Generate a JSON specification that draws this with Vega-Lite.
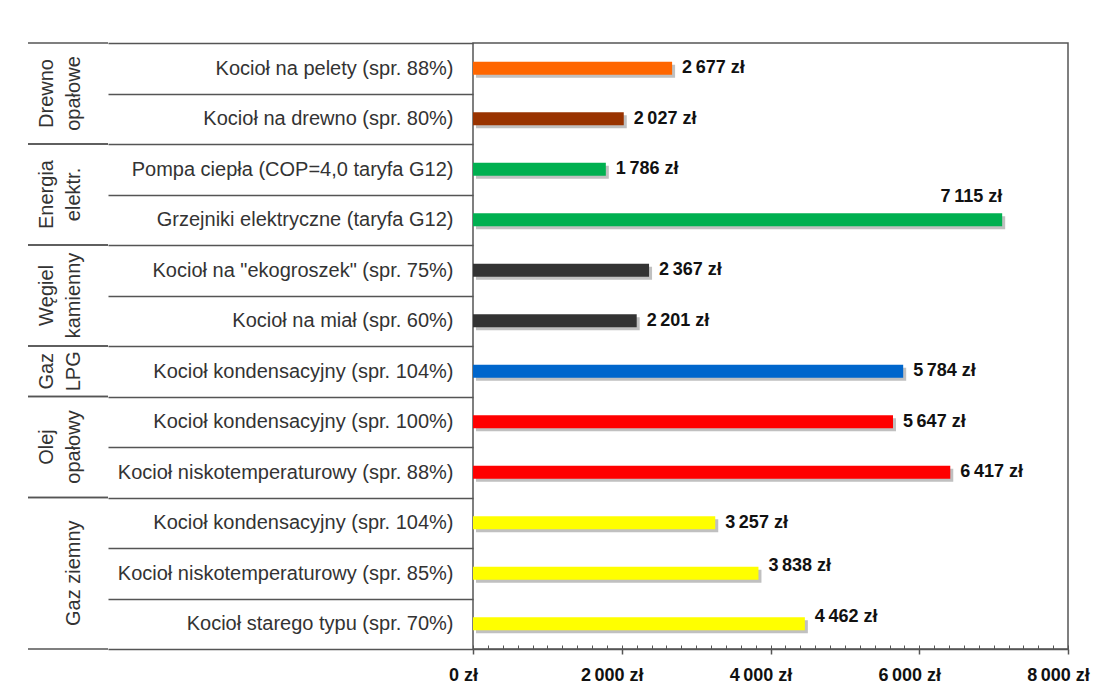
{
  "$schema": "https://vega.github.io/schema/vega-lite/v6.json",
  "padding": {"left": 27, "top": 32, "right": 0, "bottom": 0},
  "background": "white",
  "config": {
    "locale": {"number": {"decimal": ",", "thousands": "\u2009", "grouping": [3], "currency": ["", " zł"]}},
    "font": "Liberation Sans",
    "view": {"stroke": "#555555", "strokeWidth": 1.5},
    "concat": {"spacing": -3}
  },
  "datasets": {
    "koszty": [
      {"grupa": "Drewno opałowe", "nazwa": "Kocioł na pelety (spr. 88%)", "koszt": 2677, "paliwo": "pelety"},
      {"grupa": "Drewno opałowe", "nazwa": "Kocioł na drewno (spr. 80%)", "koszt": 2027, "paliwo": "drewno"},
      {"grupa": "Energia elektr.", "nazwa": "Pompa ciepła (COP=4,0 taryfa G12)", "koszt": 1786, "paliwo": "prąd"},
      {"grupa": "Energia elektr.", "nazwa": "Grzejniki elektryczne (taryfa G12)", "koszt": 7115, "paliwo": "prąd"},
      {"grupa": "Węgiel kamienny", "nazwa": "Kocioł na \"ekogroszek\" (spr. 75%)", "koszt": 2367, "paliwo": "węgiel"},
      {"grupa": "Węgiel kamienny", "nazwa": "Kocioł na miał (spr. 60%)", "koszt": 2201, "paliwo": "węgiel"},
      {"grupa": "Gaz LPG", "nazwa": "Kocioł kondensacyjny (spr. 104%)", "koszt": 5784, "paliwo": "LPG"},
      {"grupa": "Olej opałowy", "nazwa": "Kocioł kondensacyjny (spr. 100%)", "koszt": 5647, "paliwo": "olej"},
      {"grupa": "Olej opałowy", "nazwa": "Kocioł niskotemperaturowy (spr. 88%)", "koszt": 6417, "paliwo": "olej"},
      {"grupa": "Gaz ziemny", "nazwa": "Kocioł kondensacyjny (spr. 104%)", "koszt": 3257, "paliwo": "gaz ziemny"},
      {"grupa": "Gaz ziemny", "nazwa": "Kocioł niskotemperaturowy (spr. 85%)", "koszt": 3838, "paliwo": "gaz ziemny"},
      {"grupa": "Gaz ziemny", "nazwa": "Kocioł starego typu (spr. 70%)", "koszt": 4462, "paliwo": "gaz ziemny"}
    ],
    "grupy": [
      {"linia1": "Drewno", "linia2": "opałowe", "od": 0, "do": 2},
      {"linia1": "Energia", "linia2": "elektr.", "od": 2, "do": 4},
      {"linia1": "Węgiel", "linia2": "kamienny", "od": 4, "do": 6},
      {"linia1": "Gaz", "linia2": "LPG", "od": 6, "do": 7},
      {"linia1": "Olej", "linia2": "opałowy", "od": 7, "do": 9},
      {"linia1": "", "linia2": "Gaz ziemny", "od": 9, "do": 12}
    ]
  },
  "hconcat": [
    {
      "width": 80,
      "height": 606,
      "view": {"stroke": null},
      "data": {"name": "grupy"},
      "transform": [
        {"calculate": "(datum.od + datum.do) / 2", "as": "srodek"}
      ],
      "layer": [
        {
          "mark": {"type": "rule", "color": "#555555", "strokeWidth": 1.5},
          "encoding": {"y": {"field": "od", "type": "quantitative", "scale": {"domain": [0, 12], "reverse": true, "nice": false, "zero": false}, "axis": null}}
        },
        {
          "mark": {"type": "rule", "color": "#555555", "strokeWidth": 1.5},
          "encoding": {"y": {"field": "do", "type": "quantitative", "axis": null}}
        },
        {
          "mark": {"type": "text", "angle": 270, "fontSize": 20, "color": "#333333", "align": "center", "baseline": "middle", "xOffset": -21},
          "encoding": {
            "y": {"field": "srodek", "type": "quantitative", "axis": null},
            "text": {"field": "linia1", "type": "nominal"}
          }
        },
        {
          "mark": {"type": "text", "angle": 270, "fontSize": 20, "color": "#333333", "align": "center", "baseline": "middle", "xOffset": 6},
          "encoding": {
            "y": {"field": "srodek", "type": "quantitative", "axis": null},
            "text": {"field": "linia2", "type": "nominal"}
          }
        }
      ]
    },
    {
      "width": 595,
      "height": 606,
      "data": {"name": "koszty"},
      "transform": [{"calculate": "datum.grupa + '|' + datum.nazwa", "as": "klucz"}],
      "encoding": {
        "y": {
          "field": "klucz",
          "type": "nominal",
          "sort": null,
          "scale": {"paddingInner": 0, "paddingOuter": 0},
          "axis": {
            "title": null,
            "domain": false,
            "labelExpr": "split(datum.label, '|')[1]",
            "tickBand": "extent",
            "tickSize": 365,
            "tickColor": "#555555",
            "tickWidth": 1.5,
            "labelPadding": -345,
            "labelFontSize": 20,
            "labelColor": "#333333",
            "labelLimit": 420,
            "labelAlign": "right",
            "labelBaseline": "middle"
          }
        }
      },
      "layer": [
        {
          "mark": {"type": "bar", "color": "#8c8c8c", "opacity": 0.55, "xOffset": 3, "yOffset": 3, "height": {"band": 0.26}},
          "encoding": {
            "x": {
              "field": "koszt",
              "type": "quantitative",
              "scale": {"domain": [0, 8000], "nice": false},
              "axis": {"orient": "bottom", "tickCount": 40, "labels": false, "domain": false, "grid": false, "ticks": true, "tickSize": -4, "tickColor": "#555555", "tickWidth": 1, "title": null}
            }
          }
        },
        {
          "mark": {"type": "bar", "height": {"band": 0.26}},
          "encoding": {
            "x": {
              "field": "koszt",
              "type": "quantitative",
              "axis": {
                "orient": "bottom",
                "values": [0, 2000, 4000, 6000, 8000],
                "format": "$,d",
                "title": null,
                "grid": false,
                "labelFontWeight": "bold",
                "labelFontSize": 18,
                "labelColor": "#111111",
                "labelOffset": -10,
                "labelPadding": 12,
                "labelFlush": false,
                "labelOverlap": false,
                "tickSize": 5,
                "tickColor": "#555555",
                "tickWidth": 1.5,
                "domainColor": "#555555",
                "domainWidth": 1.5
              }
            },
            "color": {
              "field": "paliwo",
              "type": "nominal",
              "scale": {
                "domain": ["pelety", "drewno", "prąd", "węgiel", "LPG", "olej", "gaz ziemny"],
                "range": ["#FF6600", "#993300", "#00B050", "#333333", "#0066CC", "#FF0000", "#FFFF00"]
              },
              "legend": null
            }
          }
        },
        {
          "transform": [{"filter": "datum.koszt != 7115 && datum.koszt != 3838 && datum.koszt != 4462"}],
          "mark": {"type": "text", "align": "left", "baseline": "middle", "dx": 10, "fontSize": 18, "fontWeight": "bold", "color": "#111111"},
          "encoding": {
            "x": {"field": "koszt", "type": "quantitative", "axis": null},
            "text": {"field": "koszt", "type": "quantitative", "format": "$,d"}
          }
        },
        {
          "transform": [{"filter": "datum.koszt == 3838 || datum.koszt == 4462"}],
          "mark": {"type": "text", "align": "left", "baseline": "middle", "dx": 10, "dy": -7, "fontSize": 18, "fontWeight": "bold", "color": "#111111"},
          "encoding": {
            "x": {"field": "koszt", "type": "quantitative", "axis": null},
            "text": {"field": "koszt", "type": "quantitative", "format": "$,d"}
          }
        },
        {
          "transform": [{"filter": "datum.koszt == 7115"}],
          "mark": {"type": "text", "align": "right", "baseline": "middle", "dx": 0, "dy": -23, "fontSize": 18, "fontWeight": "bold", "color": "#111111"},
          "encoding": {
            "x": {"field": "koszt", "type": "quantitative", "axis": null},
            "text": {"field": "koszt", "type": "quantitative", "format": "$,d"}
          }
        }
      ],
      "resolve": {"axis": {"x": "independent"}}
    }
  ]
}
